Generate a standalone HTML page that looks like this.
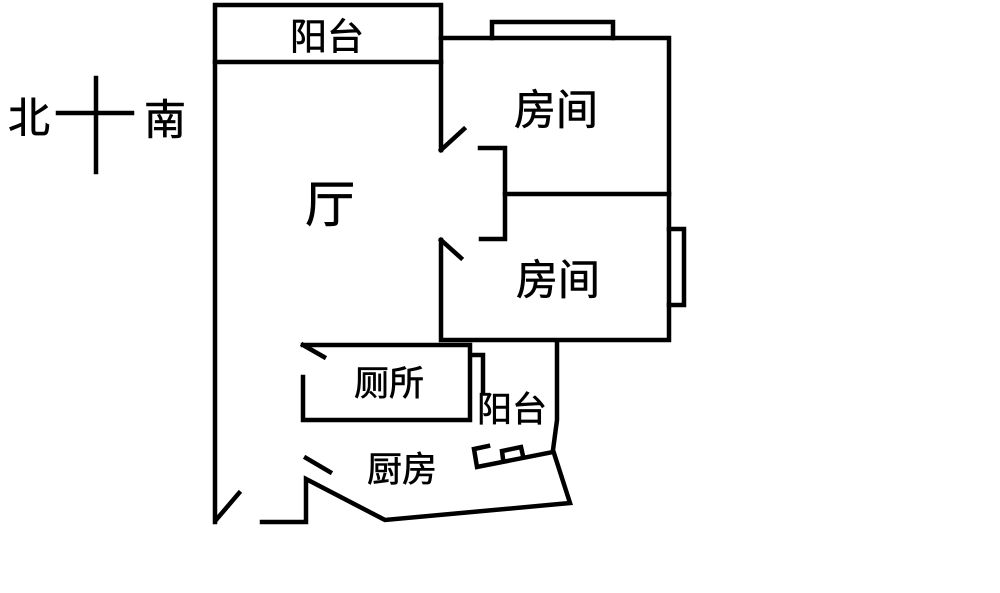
<!DOCTYPE html>
<html><head><meta charset="utf-8"><style>
html,body{margin:0;padding:0;background:#fff;}
svg{display:block}
text{font-family:"Liberation Sans","Noto Sans CJK SC",sans-serif;fill:#000;text-anchor:middle;dominant-baseline:central;stroke:#000;stroke-width:0.6}
</style></head><body>
<svg width="1000" height="593" viewBox="0 0 1000 593">
<g stroke="#000" stroke-width="4.5" fill="none" stroke-linecap="square">
<line x1="58" y1="113" x2="132" y2="113"/>
<line x1="96" y1="78" x2="96" y2="172"/>
<polyline points="215,522 215,5 441,5 441,150"/>
<line x1="215" y1="62" x2="441" y2="62"/>
<polyline points="441,38 669,38 669,340 441,340 441,240"/>
<line x1="441" y1="240" x2="461" y2="258"/>
<line x1="441" y1="150" x2="464" y2="129"/>
<polyline points="480,148 505,148 505,239 481,239"/>
<line x1="505" y1="194" x2="669" y2="194"/>
<polyline points="492,38 492,22 613,22 613,38"/>
<polyline points="669,229 684,229 684,305 669,305"/>
<polyline points="303,345 470,345 470,420 303,420 303,377"/>
<line x1="303" y1="345" x2="324" y2="357"/>
<polyline points="472,355 483,355 483,392"/>
<polyline points="557,343 557,420 553,450 570,503 385,520 306,479 306,522 262,522"/>
<line x1="306" y1="458" x2="330" y2="472"/>
<line x1="216" y1="520" x2="239" y2="493"/>
<polyline points="488,446 474,449 477,467 553,452"/>
<polyline points="503,459 502,451 521,447 523,456"/>
</g>
<text x="327" y="37" font-size="37">阳台</text>
<text x="330" y="205" font-size="50">厅</text>
<text x="556" y="110" font-size="42">房间</text>
<text x="558" y="280" font-size="42">房间</text>
<text x="389" y="384" font-size="35">厕所</text>
<text x="512" y="410" font-size="35">阳台</text>
<text x="402" y="470" font-size="35">厨房</text>
<text x="29" y="118" font-size="42">北</text>
<text x="165" y="120" font-size="42">南</text>
</svg>
</body></html>
